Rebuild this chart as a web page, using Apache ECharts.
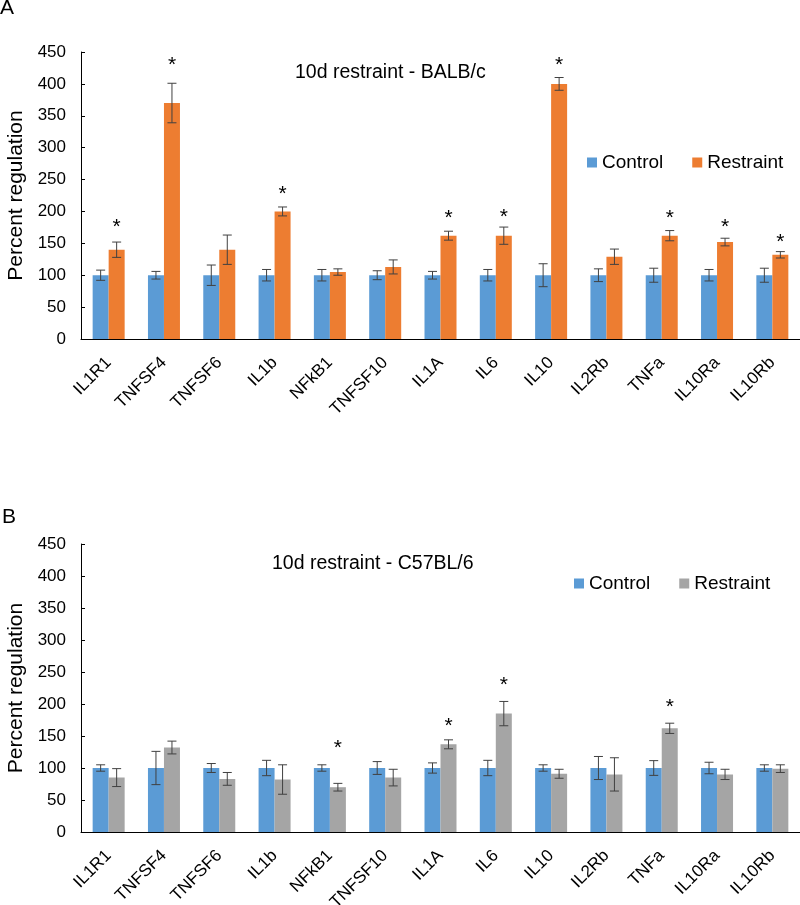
<!DOCTYPE html>
<html>
<head>
<meta charset="utf-8">
<title>Percent regulation</title>
<script src="https://cdn.jsdelivr.net/npm/echarts@6/dist/echarts.min.js"></script>
</head>
<body style="margin:0;background:#fff;">
<div id="main" style="width:800px;height:905px;"></div>
<script>
var cats = ['IL1R1', 'TNFSF4', 'TNFSF6', 'IL1b', 'NFkB1', 'TNFSF10', 'IL1A', 'IL6', 'IL10', 'IL2Rb', 'TNFa', 'IL10Ra', 'IL10Rb'];

// panel A - BALB/c
var ctrlA = [100, 100, 100, 100, 100, 100, 100, 100, 100, 100, 100, 100, 100];
var ctrlErrA = [8, 6, 16, 9, 9, 7, 6, 9, 18, 10, 11, 9, 11];
var restA = [140, 370, 140, 200, 105, 113, 162, 162, 400, 129, 162, 152, 132];
var restErrA = [12, 31, 23, 7, 5, 11, 7, 13.5, 10, 12, 8, 6, 5];
var starA = [182, 436, null, 234, null, null, 195, 198, 436, null, 196, 182, 158];

// panel B - C57BL/6
var ctrlB = [100, 100, 100, 100, 100, 100, 100, 100, 100, 100, 100, 100, 100];
var ctrlErrB = [5, 26, 7, 12, 5, 10, 8, 12, 5, 18, 11.5, 9, 5];
var restB = [85, 132, 83, 82, 70, 85, 137, 185, 91, 90, 162, 90, 99];
var restErrB = [14, 10, 10, 23, 6, 13, 7, 19, 7, 26, 8, 8, 6];
var starB = [null, null, null, null, 137, null, 172, 236, null, null, 201, null, null];

var yTicks = [0, 450, 50]; // min, max, interval

var FONT = 'Liberation Sans, Arial, sans-serif';
var BLUE = '#5B9BD5', ORANGE = '#ED7D31', GRAY = '#A5A5A5';

function errData(vals, errs, stars) {
    return vals.map(function (v, i) {
        return [i, v, errs[i], stars ? (stars[i] == null ? -1 : stars[i]) : -1];
    });
}

function errRender(offset) {
    return function (params, api) {
        var i = api.value(0), v = api.value(1), e = api.value(2), s = api.value(3);
        var x = api.coord([i, v])[0] + offset;
        var yHi = api.coord([i, v + e])[1];
        var yLo = api.coord([i, v - e])[1];
        var st = {stroke: '#404040', lineWidth: 1};
        var kids = [
            {type: 'line', shape: {x1: x, y1: yHi, x2: x, y2: yLo}, style: st},
            {type: 'line', shape: {x1: x - 4.5, y1: yHi, x2: x + 4.5, y2: yHi}, style: st},
            {type: 'line', shape: {x1: x - 4.5, y1: yLo, x2: x + 4.5, y2: yLo}, style: st}
        ];
        if (s > 0) {
            var ys = api.coord([i, s])[1];
            kids.push({type: 'text', style: {text: '*', x: x, y: ys + 4, align: 'center', verticalAlign: 'middle',
                font: '21px ' + FONT, fill: '#000'}});
        }
        return {type: 'group', children: kids};
    };
}

function xAxisCfg(gi) {
    return {
        type: 'category', gridIndex: gi, data: cats,
        axisLine: {lineStyle: {color: '#000', width: 1}},
        axisTick: {show: false},
        axisLabel: {rotate: 45, margin: 21, color: '#000', fontSize: 17, fontFamily: FONT, interval: 0}
    };
}

function yAxisCfg(gi) {
    return {
        type: 'value', gridIndex: gi, min: yTicks[0], max: yTicks[1], interval: yTicks[2],
        name: 'Percent regulation', nameLocation: 'middle', nameGap: 52,
        nameTextStyle: {color: '#000', fontSize: 21, fontFamily: FONT},
        axisLine: {show: true, lineStyle: {color: '#000', width: 1}},
        axisTick: {show: true, inside: true, length: 4, lineStyle: {color: '#000'}},
        axisLabel: {margin: 15, color: '#000', fontSize: 17, fontFamily: FONT},
        splitLine: {show: false}
    };
}

function barCfg(name, gi, vals, color) {
    return {
        name: name, type: 'bar', xAxisIndex: gi, yAxisIndex: gi, data: vals,
        barWidth: 16, barGap: '0%', itemStyle: {color: color}, animation: false
    };
}

function errCfg(gi, vals, errs, stars, offset) {
    return {
        type: 'custom', xAxisIndex: gi, yAxisIndex: gi, data: errData(vals, errs, stars),
        encode: {x: 0, y: 1}, renderItem: errRender(offset), z: 5, silent: true, animation: false
    };
}

function titleCfg(text, left, top, size) {
    return {text: text, left: left, top: top, padding: 0,
        textStyle: {fontSize: size, fontWeight: 'normal', color: '#000', fontFamily: FONT}};
}

var myChart = echarts.init(document.getElementById('main'));
myChart.setOption({
    animation: false,
    textStyle: {fontFamily: FONT},
    title: [
        titleCfg('A', 0, -2, 21),
        titleCfg('B', 2, 507, 21),
        titleCfg('10d restraint - BALB/c', 295, 63, 19.5),
        titleCfg('10d restraint - C57BL/6', 272, 554, 19.5)
    ],
    legend: [{
        left: 587, top: 153, padding: 0, icon: 'rect', itemWidth: 10, itemHeight: 10, itemGap: 29,
        textStyle: {fontSize: 19, color: '#000', fontFamily: FONT},
        data: [{name: 'Control', itemStyle: {color: BLUE}}, {name: 'Restraint', itemStyle: {color: ORANGE}}]
    }, {
        left: 574, top: 574, padding: 0, icon: 'rect', itemWidth: 10, itemHeight: 10, itemGap: 29,
        textStyle: {fontSize: 19, color: '#000', fontFamily: FONT},
        data: [{name: 'Control', itemStyle: {color: BLUE}}, {name: 'Restraint', itemStyle: {color: GRAY}}]
    }],
    grid: [
        {left: 81, right: 0, top: 52, height: 287, containLabel: false, outerBoundsMode: 'none'},
        {left: 81, right: 0, top: 544, height: 288, containLabel: false, outerBoundsMode: 'none'}
    ],
    xAxis: [xAxisCfg(0), xAxisCfg(1)],
    yAxis: [yAxisCfg(0), yAxisCfg(1)],
    series: [
        barCfg('Control', 0, ctrlA, BLUE),
        barCfg('Restraint', 0, restA, ORANGE),
        barCfg('Control', 1, ctrlB, BLUE),
        barCfg('Restraint', 1, restB, GRAY),
        errCfg(0, ctrlA, ctrlErrA, null, -8),
        errCfg(0, restA, restErrA, starA, 8),
        errCfg(1, ctrlB, ctrlErrB, null, -8),
        errCfg(1, restB, restErrB, starB, 8)
    ]
});
</script>
</body>
</html>
